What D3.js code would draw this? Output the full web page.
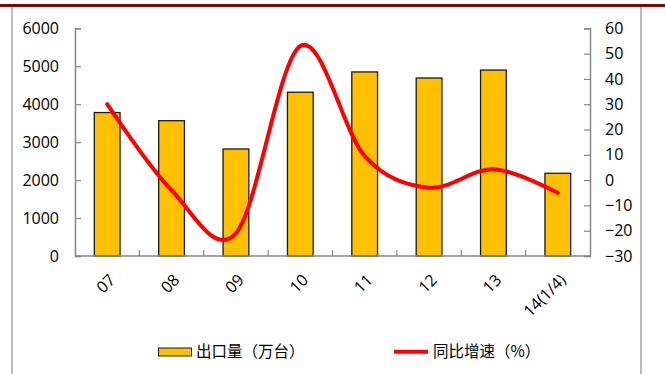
<!DOCTYPE html>
<html>
<head>
<meta charset="utf-8">
<script src="https://cdn.jsdelivr.net/npm/d3@7"></script>
<style>
  html, body { margin: 0; padding: 0; background: #fff; }
  svg { display: block; }
</style>
</head>
<body>
<svg id="chart" width="665" height="374"></svg>
<script>
// Export volume (10k units) and year-on-year growth (%)
const categories = ["07", "08", "09", "10", "11", "12", "13", "14(1/4)"];
const exportVolume = [3780, 3565, 2820, 4315, 4850, 4690, 4900, 2180];
const yoyGrowth = [30, -4, -21, 53, 9.5, -3, 4.3, -5];
const leftTicks = [0, 1000, 2000, 3000, 4000, 5000, 6000];
const rightTicks = [-30, -20, -10, 0, 10, 20, 30, 40, 50, 60];
const legendLabels = ["出口量（万台）", "同比增速（%）"];

const svg = d3.select("#chart");
const W = 665, H = 374;
const plot = { left: 75, right: 590, top: 28.3, bottom: 256 };

// Frame: dark red rule on top, grey side borders
svg.append("rect").attr("x", 0).attr("y", 4).attr("width", W).attr("height", 3).attr("fill", "#7a0a0a");
svg.append("line").attr("x1", 12).attr("x2", 12).attr("y1", 7).attr("y2", H)
  .attr("stroke", "#a6a6a6").attr("stroke-width", 1.5);
svg.append("line").attr("x1", 641).attr("x2", 641).attr("y1", 7).attr("y2", H)
  .attr("stroke", "#a6a6a6").attr("stroke-width", 1.5);

const x = d3.scaleBand().domain(categories).range([plot.left, plot.right]).paddingInner(0).paddingOuter(0);
const yL = d3.scaleLinear().domain([0, 6000]).range([plot.bottom, plot.top]);
const yR = d3.scaleLinear().domain([-30, 60]).range([plot.bottom, plot.top]);

const axisColor = "#868686";
const tickFont = "'Open Sans', sans-serif";
const tickSize = 16;

// Bars
svg.append("g").selectAll("rect").data(exportVolume).join("rect")
  .attr("x", (d, i) => x(categories[i]) + x.bandwidth() * 0.3)
  .attr("width", x.bandwidth() * 0.4)
  .attr("y", d => yL(d))
  .attr("height", d => yL(0) - yL(d))
  .attr("fill", "#ffc000")
  .attr("stroke", "#1a1a1a")
  .attr("stroke-width", 1.3);

// Left axis (ticks pointing inward)
const gL = svg.append("g").attr("transform", `translate(${plot.left},0)`)
  .call(d3.axisLeft(yL).tickValues(leftTicks).tickFormat(d3.format("d"))
    .tickSizeInner(-6).tickSizeOuter(-6).tickPadding(16));
// Right axis
const gR = svg.append("g").attr("transform", `translate(${plot.right},0)`)
  .call(d3.axisRight(yR).tickValues(rightTicks).tickFormat(d3.format("d"))
    .tickSizeInner(-6).tickSizeOuter(-6).tickPadding(15));
// Bottom axis with dividers between categories
const gB = svg.append("g").attr("transform", `translate(0,${plot.bottom})`);
gB.append("line").attr("x1", plot.left).attr("x2", plot.right).attr("y1", 0).attr("y2", 0)
  .attr("stroke", axisColor).attr("stroke-width", 1.5);
gB.selectAll("line.div").data(categories.slice(1)).join("line").attr("class", "div")
  .attr("x1", d => x(d)).attr("x2", d => x(d)).attr("y1", 0).attr("y2", -6)
  .attr("stroke", axisColor).attr("stroke-width", 1.2);
gB.selectAll("text").data(categories).join("text")
  .attr("transform", d => `translate(${x(d) + x.bandwidth() / 2 + 6},${22}) rotate(-45)`)
  .attr("text-anchor", "end")
  .attr("dominant-baseline", "middle")
  .attr("font-family", tickFont).attr("font-size", tickSize).attr("fill", "#000")
  .text(d => d);

[gL, gR].forEach(g => {
  g.select(".domain").attr("stroke", axisColor).attr("stroke-width", 1.5);
  g.selectAll(".tick line").attr("stroke", axisColor).attr("stroke-width", 1.2);
  g.selectAll(".tick text").attr("font-family", tickFont).attr("font-size", tickSize).attr("fill", "#000");
});

// Growth line (smoothed)
const line = d3.line()
  .x((d, i) => x(categories[i]) + x.bandwidth() / 2)
  .y(d => yR(d))
  .curve(d3.curveCardinal.tension(0));
svg.append("path").datum(yoyGrowth)
  .attr("d", line)
  .attr("fill", "none")
  .attr("stroke", "#ff0000")
  .attr("stroke-width", 4)
  .attr("stroke-linecap", "round");

// Legend
const lg = svg.append("g");
lg.append("rect").attr("x", 158.5).attr("y", 348).attr("width", 33).attr("height", 8)
  .attr("fill", "#ffc000").attr("stroke", "#1a1a1a").attr("stroke-width", 1);
lg.append("text").attr("x", 196).attr("y", 352.5).attr("dominant-baseline", "middle")
  .attr("font-family", "'Noto Sans CJK SC', sans-serif").attr("font-size", 15.5).attr("fill", "#000")
  .text(legendLabels[0]);
lg.append("line").attr("x1", 394).attr("x2", 428).attr("y1", 351.7).attr("y2", 351.7)
  .attr("stroke", "#ff0000").attr("stroke-width", 4);
lg.append("text").attr("x", 433).attr("y", 352.5).attr("dominant-baseline", "middle")
  .attr("font-family", "'Noto Sans CJK SC', sans-serif").attr("font-size", 15.5).attr("fill", "#000")
  .text(legendLabels[1]);
</script>
</body>
</html>
